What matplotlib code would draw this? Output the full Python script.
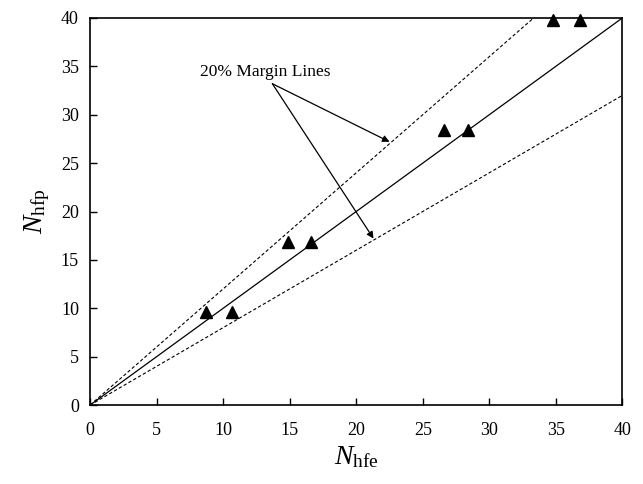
import numpy as np
import matplotlib.pyplot as plt

plt.rcParams['font.family'] = ['Liberation Serif', 'DejaVu Serif']
plt.rcParams['mathtext.fontset'] = 'custom'
plt.rcParams['mathtext.rm'] = 'Liberation Serif'
plt.rcParams['mathtext.it'] = 'Liberation Serif:italic'

# measured (experimental) vs predicted values
n_hfe = [8.7, 10.7, 14.9, 16.6, 26.6, 28.4, 34.8, 36.8]
n_hfp = [9.6, 9.6, 16.8, 16.8, 28.4, 28.4, 39.8, 39.8]
margin = 0.2
ticks = [0, 5, 10, 15, 20, 25, 30, 35, 40]

fig = plt.figure(figsize=(6.43, 4.84), dpi=100)
ax = fig.add_axes([0.14, 0.163, 0.828, 0.8])

xs = np.array([0, 40])
ax.plot(xs, xs, 'k-', lw=0.9)
ax.plot(xs, xs * (1 + margin), 'k--', lw=0.8, dashes=(3, 2))
ax.plot(xs, xs * (1 - margin), 'k--', lw=0.8, dashes=(3, 2))
ax.plot(n_hfe, n_hfp, 'k^', ms=8, clip_on=False, zorder=5)

arrow = dict(arrowstyle='-|>', color='k', lw=0.9, mutation_scale=10, shrinkA=0, shrinkB=0)
ax.annotate('', xy=(22.5, 27.2), xytext=(13.7, 33.2), arrowprops=arrow)
ax.annotate('', xy=(21.3, 17.2), xytext=(13.7, 33.2), arrowprops=arrow)
ax.text(8.3, 34.4, '20% Margin Lines', fontsize=12.5, va='center', ha='left')

ax.set_xlim(0, 40)
ax.set_ylim(0, 40)
ax.set_xticks(ticks)
ax.set_yticks(ticks)
ax.tick_params(direction='in', length=5, width=1, labelsize=13)
ax.tick_params(axis='x', pad=12)
ax.tick_params(axis='y', pad=8)
for s in ax.spines.values():
    s.set_linewidth(1.2)

ax.set_xlabel(r'$N_{\rm hfe}$', fontsize=20, labelpad=4)
ax.set_ylabel(r'$N_{\rm hfp}$', fontsize=20, labelpad=6)

fig.savefig('out.png', dpi=100)
